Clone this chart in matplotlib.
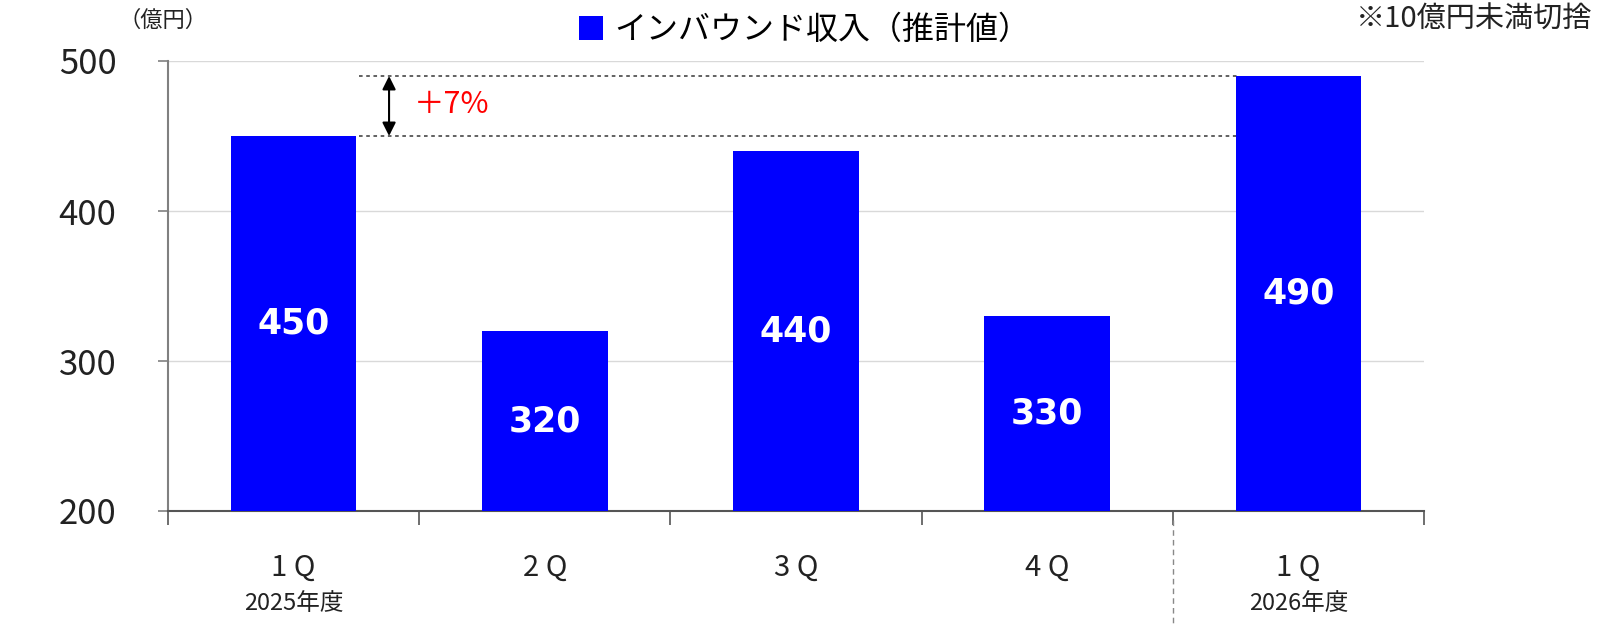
import matplotlib
matplotlib.use("Agg")
import matplotlib.pyplot as plt
from matplotlib.transforms import blended_transform_factory
import numpy as np

plt.rcParams['font.family'] = ['Noto Sans CJK JP', 'DejaVu Sans']

quarters = ["1 Q", "2 Q", "3 Q", "4 Q", "1 Q"]
years = ["2025年度", "", "", "", "2026年度"]
values = [450, 320, 440, 330, 490]
series_name = "インバウンド収入（推計値）"
yticks = [200, 300, 400, 500]
growth_label = "＋7%"
bar_color = "#0000FF"

fig = plt.figure(figsize=(16, 6.36), dpi=100)
ax = fig.add_axes([168/1600, 1-511/636, (1424-168)/1600, (511-61)/636])

x = np.arange(len(values))
ax.bar(x, values, width=0.5, color=bar_color, zorder=3, label=series_name)
ax.set_xlim(-0.5, len(values)-0.5)
ax.set_ylim(200, 500)
ax.set_yticks(yticks)
ax.set_yticklabels([str(v) for v in yticks], fontsize=25)
ax.grid(axis='y', color='#d9d9d9', linewidth=1, zorder=0)
ax.tick_params(axis='y', length=7, width=1.2, color='#808080', pad=30, labelcolor='#222222')
for s in ['top', 'right']:
    ax.spines[s].set_visible(False)
ax.spines['left'].set_color('#808080')
ax.spines['left'].set_linewidth(1.5)
ax.spines['bottom'].set_color('#555555')
ax.spines['bottom'].set_linewidth(1.5)

# x ticks at boundaries
ax.set_xticks(np.arange(-0.5, len(values), 1.0))
ax.set_xticklabels([])
ax.tick_params(axis='x', length=10, width=1.2, color='#555555', direction='out')

trans = blended_transform_factory(ax.transData, fig.transFigure)
for i, (q, yr) in enumerate(zip(quarters, years)):
    ax.text(i, 1-568/636, q, transform=trans, ha='center', va='center', fontsize=21, color='#222222')
    if yr:
        ax.text(i, 1-604/636, yr, transform=trans, ha='center', va='center', fontsize=17, color='#222222')

# dashed vertical separator
ax.plot([3.5, 3.5], [1-520/636, 1-625/636], transform=trans, color='#888888',
        linestyle=(0, (4, 3)), linewidth=1, clip_on=False)

# data labels
for i, v in enumerate(values):
    ax.text(i, (200 + v) / 2, str(v), ha='center', va='center', color='white',
            fontsize=25, fontweight='bold', family='DejaVu Sans', zorder=4)

# growth annotation
x0, x1 = 0.26, 3.76
for yv in (values[0], values[-1]):
    ax.plot([x0, x1], [yv, yv], color='#555555', linestyle=(0, (2, 2)), linewidth=1.3, zorder=2)
ax.annotate('', xy=(0.38, values[-1]), xytext=(0.38, values[0]),
            arrowprops=dict(arrowstyle='<|-|>', color='black', lw=1.5,
                            mutation_scale=20, shrinkA=0, shrinkB=0), zorder=5)
ax.text(0.48, (values[0] + values[-1]) / 2 + 1, growth_label, color='#FF0000',
        fontsize=22, ha='left', va='center')

# legend
leg = fig.legend(loc='center', bbox_to_anchor=(805/1600, 1-30/636), frameon=False,
                 fontsize=23, handlelength=0.75, handleheight=0.75, handletextpad=0.35,
                 borderaxespad=0, borderpad=0)

fig.text(163/1600, 1-20/636, "（億円）", ha='center', va='center', fontsize=16, color='#222222')
fig.text(1592/1600, 1-20/636, "※10億円未満切捨", ha='right', va='center', fontsize=21, color='#222222')

fig.savefig("out.png", dpi=100, facecolor='white')
